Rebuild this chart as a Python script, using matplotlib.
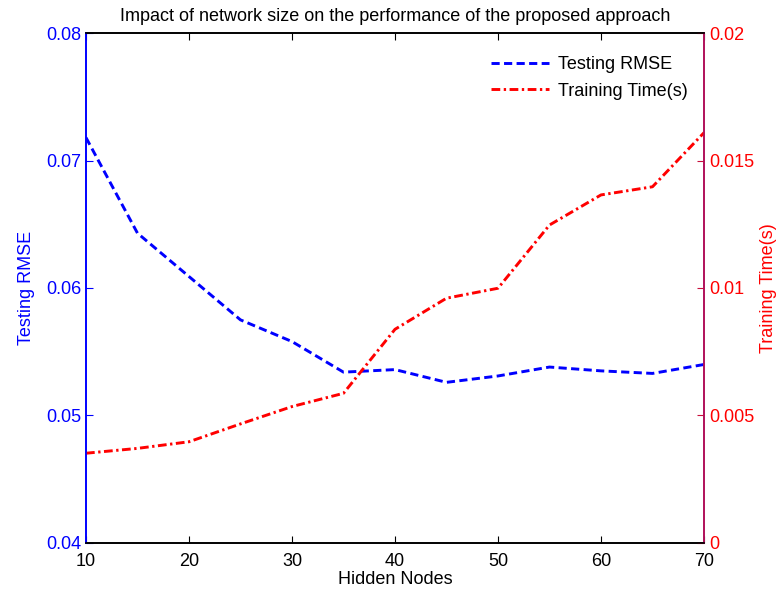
import matplotlib.pyplot as plt
import numpy as np

plt.rcParams['font.family'] = ['Liberation Sans', 'DejaVu Sans']

hidden_nodes = np.array([10, 15, 20, 25, 30, 35, 40, 45, 50, 55, 60, 65, 70])
testing_rmse = np.array([0.0718, 0.0643, 0.0609, 0.0575, 0.0558, 0.0534, 0.0536,
                         0.0526, 0.0531, 0.0538, 0.0535, 0.0533, 0.0540])
training_time = np.array([0.00352, 0.00371, 0.00397, 0.00467, 0.00535, 0.00587, 0.00838,
                          0.0096, 0.00999, 0.01247, 0.01365, 0.01397, 0.01609])

fig = plt.figure(figsize=(7.76, 5.98), dpi=100)
ax1 = fig.add_axes([0.1108, 0.092, 0.7964, 0.8528])
ax2 = ax1.twinx()

l1, = ax1.plot(hidden_nodes, testing_rmse, color='#0000ff', linestyle=(0, (2.8, 1.5)),
               linewidth=2.1, label='Testing RMSE')
l2, = ax2.plot(hidden_nodes, training_time, color='#ff0000', linestyle=(0, (3.0, 1.2, 0.8, 1.2)),
               linewidth=2.1, label='Training Time(s)')

ax1.set_xlim(10, 70)
ax1.set_ylim(0.04, 0.08)
ax2.set_ylim(0, 0.02)
ax1.set_xticks(np.arange(10, 71, 10))
ax1.set_yticks([0.04, 0.05, 0.06, 0.07, 0.08])
ax2.set_yticks([0, 0.005, 0.01, 0.015, 0.02])
ax2.set_yticklabels(['0', '0.005', '0.01', '0.015', '0.02'])

ax1.tick_params(axis='x', direction='in', top=True, labelsize=13, length=5, colors='black', pad=7)
ax1.tick_params(axis='y', direction='in', colors='#0000ff', labelsize=13, length=5)
ax2.tick_params(axis='y', direction='in', colors='#ff0000', labelsize=13, length=5)
ax2.tick_params(axis='y', which='both', color='#c8103c')

for ax in (ax1, ax2):
    ax.spines['top'].set_color('black')
    ax.spines['bottom'].set_color('black')
    ax.spines['left'].set_color('#0000ff')
    ax.spines['right'].set_color('#b0105a')
    for s in ax.spines.values():
        s.set_linewidth(1.2)

ax1.set_xlabel('Hidden Nodes', fontsize=13, labelpad=1)
ax1.set_ylabel('Testing RMSE', fontsize=13, color='#0000ff', labelpad=8)
ax2.set_ylabel('Training Time(s)', fontsize=13, color='#ff0000', labelpad=4)
ax1.set_title('Impact of network size on the performance of the proposed approach',
              fontsize=13, pad=9)

ax2.legend(handles=[l1, l2], loc='upper right', bbox_to_anchor=(1.011, 1.0), frameon=False,
           fontsize=13, handlelength=3.2, handletextpad=0.5, borderaxespad=0.9, labelspacing=0.5)

fig.savefig('out.png', dpi=100)
